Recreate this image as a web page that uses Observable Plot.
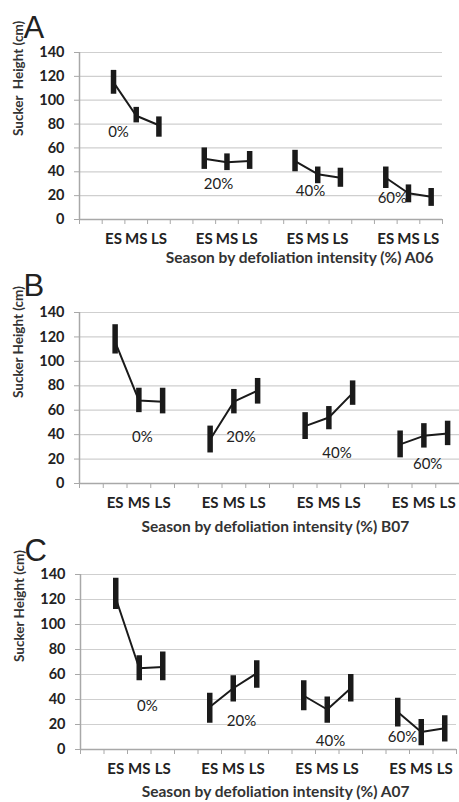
<!DOCTYPE html>
<html>
<head>
<meta charset="utf-8">
<script src="https://cdn.jsdelivr.net/npm/d3@7"></script>
<script src="https://cdn.jsdelivr.net/npm/@observablehq/plot@0.6"></script>
<style>
  html, body { margin: 0; padding: 0; background: #fff; }
  #chart { width: 459px; }
  #chart svg { display: block; }
</style>
</head>
<body>
<div id="chart"></div>
<script>
// ---- categories / ticks ----
const seasons = ["ES", "MS", "LS"];
const intensities = ["0%", "20%", "40%", "60%"];
const yTicks = [0, 20, 40, 60, 80, 100, 120, 140];

// ---- Panel A (A06): means and error-bar ends, order: 0% ES,MS,LS, 20% ..., 40% ..., 60% ...
const meanA = [115, 87, 79, 51, 48, 49, 49, 38, 35, 35, 22, 19];
const lowA  = [105, 81, 69, 42, 41, 42, 40, 30, 27, 26, 14, 11];
const highA = [125, 94, 86, 60, 55, 57, 58, 44, 43, 44, 29, 26];
const pctYA = [73, 30, 24, 18];
const pctXA = [1.72, 2.13, 2.18, 1.79];

// ---- Panel B (B07)
const meanB = [116, 68, 67, 36, 67, 76, 47, 54, 74, 32, 39, 41];
const lowB  = [106, 58, 57, 25, 57, 65, 36, 44, 64, 21, 29, 31];
const highB = [130, 78, 78, 47, 77, 86, 58, 63, 84, 43, 49, 51];
const pctYB = [38, 38, 25, 16];
const pctXB = [2.65, 2.8, 2.84, 2.66];

// ---- Panel C (A07)
const meanC = [121, 65, 66, 34, 49, 61, 43, 32, 49, 30, 14, 17];
const lowC  = [112, 55, 55, 21, 38, 49, 31, 21, 38, 18, 3, 6];
const highC = [137, 75, 78, 45, 59, 71, 55, 42, 60, 41, 24, 27];
const pctYC = [35, 23, 7, 10];
const pctXC = [2.85, 2.85, 2.64, 1.7];

function rowsFor(mean, low, high) {
  return intensities.flatMap((g, gi) => seasons.map((s, si) => {
    const i = gi * 3 + si;
    return { g, s, pos: gi * 4 + si + 1.5, mean: mean[i], low: low[i], high: high[i] };
  }));
}
function pctRows(xs, ys) {
  return intensities.map((g, gi) => ({ g, pos: gi * 4 + xs[gi], y: ys[gi] }));
}

const panels = [
  { letter: "A", ytitle: "Sucker  Height (cm)", xtitle: "Season by defoliation intensity (%) A06",
    mean: meanA, low: lowA, high: highA, px: pctXA, py: pctYA,
    height: 262, mt: 52, mb: 43, ml: 79, mr: 17, titleX: 9.7, titleDy: 39, letterDy: -15 },
  { letter: "B", ytitle: "Sucker Height (cm)", xtitle: "Season by defoliation intensity (%) B07",
    mean: meanB, low: lowB, high: highB, px: pctXB, py: pctYB,
    height: 270, mt: 50, mb: 49, ml: 79, mr: 0, titleX: 8.25, titleDy: 44, letterDy: -17 },
  { letter: "C", ytitle: "Sucker Height (cm)", xtitle: "Season by defoliation intensity (%) A07",
    mean: meanC, low: lowC, high: highC, px: pctXC, py: pctYC,
    height: 270, mt: 42, mb: 53, ml: 80, mr: 3, titleX: 8.3, titleDy: 43, letterDy: -14 }
];

const container = document.getElementById("chart");
const slotTicks = d3.range(0, 17);

for (const p of panels) {
  const rows = rowsFor(p.mean, p.low, p.high);
  const pct = pctRows(p.px, p.py);
  const chart = Plot.plot({
    width: 459,
    height: p.height,
    marginTop: p.mt,
    marginBottom: p.mb,
    marginLeft: p.ml,
    marginRight: p.mr,
    style: { fontFamily: "Lato, 'Open Sans', sans-serif", background: "#fff", overflow: "visible" },
    x: { domain: [0, 16], axis: null },
    y: { domain: [0, 140], axis: null },
    marks: [
      Plot.ruleY(yTicks.filter(v => v > 0), { stroke: "#cfcfcf", strokeWidth: 1.2 }),
      Plot.ruleY([0], { stroke: "#a8a8a8", strokeWidth: 1.5 }),
      Plot.ruleX([0], { y1: 0, y2: 140, stroke: "#a8a8a8", strokeWidth: 1.5 }),
      Plot.axisY({ ticks: yTicks, tickSize: 5, tickPadding: 10, stroke: "#a8a8a8", fill: "#222",
        fontSize: 14.5, fontWeight: "bold", label: null }),
      Plot.axisX({ ticks: slotTicks, tickSize: 5, stroke: "#a8a8a8", fill: "none", label: null }),
      Plot.text(rows, { x: "pos", y: () => 0, text: "s", dy: 20, fontSize: 15, fontWeight: "bold",
        fill: "#222", lineAnchor: "middle" }),
      Plot.text([p.xtitle], { x: () => p.titleX, y: () => 0, text: d => d, dy: p.titleDy,
        fontSize: 15.5, fontWeight: "bold", fill: "#333", lineAnchor: "middle" }),
      Plot.text([p.ytitle], { frameAnchor: "left", text: d => d, rotate: -90, dx: -61,
        fontSize: 13.5, fontWeight: "bold", fill: "#333", lineAnchor: "middle" }),
      Plot.text([p.letter], { frameAnchor: "top-left", text: d => d, dx: -56, dy: p.letterDy,
        textAnchor: "start", lineAnchor: "bottom", fontSize: 31,
        fontFamily: "'Liberation Sans', Arial, sans-serif", fill: "#222" }),
      Plot.line(rows, { x: "pos", y: "mean", z: "g", stroke: "#1a1a1a", strokeWidth: 2 }),
      Plot.ruleX(rows, { x: "pos", y1: "low", y2: "high", stroke: "#1a1a1a", strokeWidth: 5.5 }),
      Plot.text(pct, { x: "pos", y: "y", text: "g", fontSize: 15, fill: "#222", lineAnchor: "middle" })
    ]
  });
  container.appendChild(chart);
}
</script>
</body>
</html>
